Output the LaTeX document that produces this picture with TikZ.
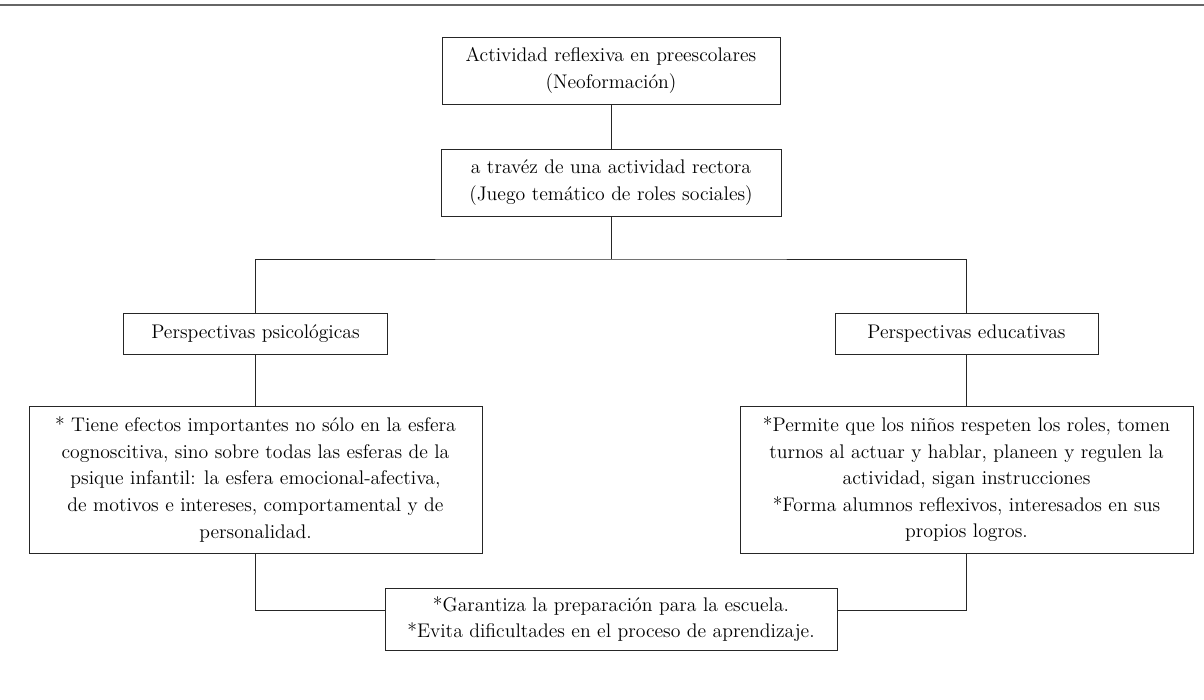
\documentclass[tikz,border=0pt]{standalone}
\usepackage{fontspec}
\begin{document}
\begin{tikzpicture}[x=0.75pt,y=-0.75pt]
    % Styles
    \tikzstyle{concept box} = [draw=black!85, line width=0.6pt, align=center, inner sep=0pt,
        font=\fontsize{14.8}{19.9}\selectfont]
    \tikzstyle{wide box} = [concept box, minimum width=339.75pt, minimum height=110.25pt]
    \tikzstyle{link line} = [draw=black!85, line width=0.6pt]

    \useasboundingbox (0,0) rectangle (1204,700);

    %%% Top rule
    \draw[black!60, line width=1.4pt] (0,5) -- (1204,5);

    %%% Boxes
    \node[concept box, minimum width=253.5pt, minimum height=50.25pt] (reflexiva) at (611,70.5)
        {Actividad reflexiva en preescolares\\(Neoformación)};
    \node[concept box, minimum width=255pt, minimum height=50.25pt] (juego) at (611,182.5)
        {a travéz de una actividad rectora\\(Juego temático de roles sociales)};

    \node[concept box, minimum width=198pt, minimum height=30.75pt] (psico) at (255.5,334)
        {Perspectivas psicológicas};
    \node[concept box, minimum width=197.25pt, minimum height=30.75pt] (educa) at (966.5,333.5)
        {Perspectivas educativas};

    \node[wide box] (efectos) at (255.5,479.5)
        {* Tiene efectos importantes no sólo en la esfera\\
         cognoscitiva, sino sobre todas las esferas de la\\
         psique infantil: la esfera emocional-afectiva,\\
         de motivos e intereses, comportamental y de\\
         personalidad.};
    \node[wide box] (permite) at (966.5,479.5)
        {*Permite que los niños respeten los roles, tomen\\
         turnos al actuar y hablar, planeen y regulen la\\
         actividad, sigan instrucciones\\
         *Forma alumnos reflexivos, interesados en sus\\
         propios logros.};

    \node[concept box, minimum width=339pt, minimum height=46.5pt] (escuela) at (611,619)
        {*Garantiza la preparación para la escuela.\\
         *Evita dificultades en el proceso de aprendizaje.};
    %%%

    %%% Connectors
    \coordinate (split) at (611,259);
    \coordinate (join) at (611,610);
    \draw[link line] (reflexiva) -- (juego);
    \draw[link line] (juego) -- (split);
    \draw[link line] (psico.north) |- (split) -| (educa.north);
    \draw[link line] (psico) -- (efectos);
    \draw[link line] (educa) -- (permite);
    \draw[link line] (efectos.south) |- (escuela.west |- join);
    \draw[link line] (permite.south) |- (escuela.east |- join);
    %%%
\end{tikzpicture}
\end{document}
